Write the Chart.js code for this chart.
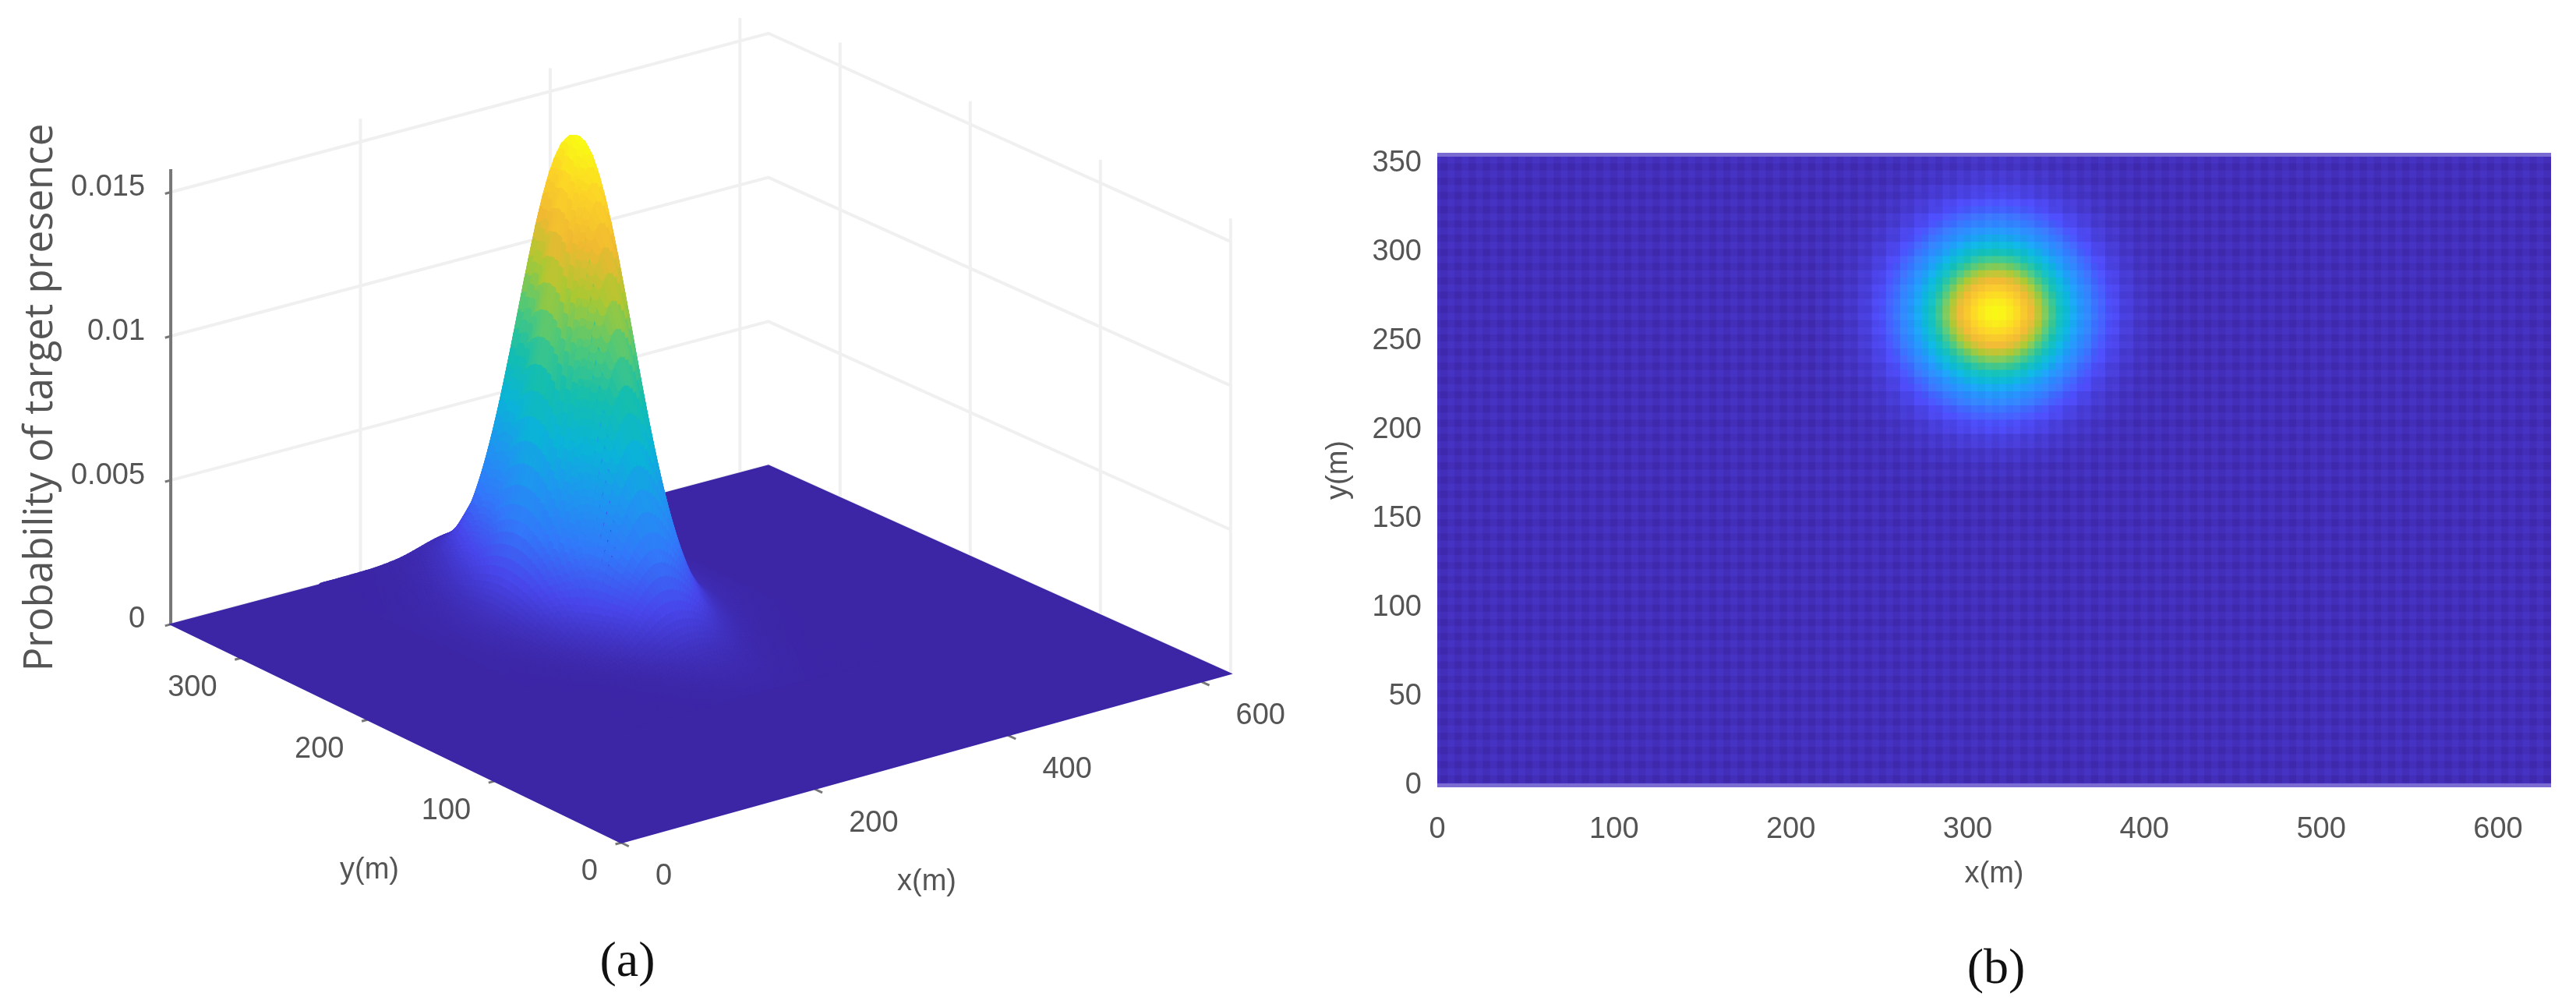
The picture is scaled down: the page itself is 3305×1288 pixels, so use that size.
<!DOCTYPE html>
<html>
<head>
<meta charset="utf-8">
<script src="https://cdn.jsdelivr.net/npm/chart.js@4/dist/chart.umd.min.js"></script>
<style>
  html, body { margin: 0; padding: 0; background: #fff; width: 3305px; height: 1288px; overflow: hidden; }
  canvas { position: absolute; top: 0; }
  #surface { left: 0; }
  #heat { left: 1660px; }
</style>
</head>
<body>
<canvas id="surface" width="1660" height="1288"></canvas>
<canvas id="heat" width="1645" height="1288"></canvas>
<script>
// values
const xTicks3d = [0, 200, 400, 600];
const yTicks3d = [0, 100, 200, 300];
const zTicks3d = [0, 0.005, 0.01, 0.015];
const zTickLabels = ['0', '0.005', '0.01', '0.015'];
const xTicksHeat = [0, 100, 200, 300, 400, 500, 600];
const yTicksHeat = [0, 50, 100, 150, 200, 250, 300, 350];

const xMax = 630;
const yMax = 355;
const zTop = 0.0158;
const peakProb = 0.0163;

// peak position (a) and (b)
const peak3d = { x: 295, y: 258 };
const peakHeat = { x: 315, y: 266 };

// falloff away from the peak, one entry per mesh step, for the surface in (a)
const surfaceFalloff = [1, 0.996, 0.983, 0.961, 0.932, 0.896, 0.854, 0.806, 0.755, 0.7, 0.644,
  0.588, 0.531, 0.476, 0.423, 0.372, 0.325, 0.281, 0.241, 0.21, 0.185, 0.16, 0.135, 0.115, 0.097,
  0.083, 0.07, 0.06, 0.05, 0.042, 0.035, 0.03, 0.026, 0.023, 0.02, 0.017, 0.015, 0.013, 0.011,
  0.009, 0.008, 0.007, 0.006, 0.005, 0.004];
const surfaceStep = 3.15;

// falloff away from the peak, every 4 m, for the map in (b)
const heatFalloff = [1, 0.991, 0.966, 0.926, 0.871, 0.807, 0.734, 0.656, 0.577, 0.498, 0.423,
  0.353, 0.29, 0.234, 0.185, 0.144, 0.11, 0.083, 0.061, 0.045, 0.032, 0.022, 0.016, 0.011, 0.007, 0.005];
const heatStep = 4;

const colorStops = [
  [0, 60, 38, 166], [0.1, 72, 70, 235], [0.2, 50, 120, 250], [0.3, 30, 150, 240],
  [0.4, 10, 180, 215], [0.5, 20, 190, 175], [0.6, 80, 200, 120], [0.7, 170, 200, 50],
  [0.8, 240, 185, 50], [0.9, 252, 210, 40], [1, 249, 251, 20]
];

const GRID = '#f0f0f0';
const AXIS = '#777777';
const TEXT = '#555555';
const TICK_FONT = '38px "Liberation Sans"';

function colormap(v) {
  v = Math.min(1, Math.max(0, v));
  let i = 0;
  while (i < colorStops.length - 2 && v > colorStops[i + 1][0]) i++;
  const a = colorStops[i], b = colorStops[i + 1];
  const t = (v - a[0]) / (b[0] - a[0]);
  return [1, 2, 3].map(k => Math.round(a[k] + (b[k] - a[k]) * t));
}

function rgb(c) {
  return `rgb(${c[0]},${c[1]},${c[2]})`;
}

function falloffAt(table, step, d) {
  const idx = Math.round(Math.abs(d) / step);
  return idx < table.length ? table[idx] : 0;
}

// camera of (a): metres and probability to canvas units, slight perspective on the far corner
function project(x, y, z) {
  const uv = (x / xMax) * (y / yMax);
  return {
    x: 797 + 1.241 * x - 1.628 * y - 15 * uv,
    y: 1081 - 0.344 * x - 0.789 * y + 13 * uv - 36960 * z,
    z: z
  };
}

function lineSet(points, color, width) {
  return {
    data: points, showLine: true, borderColor: color, borderWidth: width,
    pointRadius: 0, fill: false, clip: false
  };
}

function surfaceZ(dx, dy) {
  return peakProb * falloffAt(surfaceFalloff, surfaceStep, dx) * falloffAt(surfaceFalloff, surfaceStep, dy);
}

function buildSurfaceDatasets() {
  const sets = [];
  const reach = (surfaceFalloff.length - 1) * surfaceStep;

  // strips of the mesh, nearest first because the first dataset is painted last.
  // each strip zigzags between two neighbouring rows so the steep faces stay closed
  for (let dx = -reach; dx < reach; dx += surfaceStep) {
    const pts = [];
    for (let dy = -reach; dy <= reach; dy += surfaceStep) {
      const y = peak3d.y + dy;
      if (y > yMax) break;
      pts.push(project(peak3d.x + dx, y, surfaceZ(dx, dy)));
      pts.push(project(peak3d.x + dx + surfaceStep, y, surfaceZ(dx + surfaceStep, dy)));
    }
    sets.push({
      data: pts, showLine: true, borderWidth: 10, borderCapStyle: 'round', borderJoinStyle: 'round',
      borderColor: rgb(colorStops[0].slice(1)), pointRadius: 0, fill: false, clip: false,
      segment: {
        borderColor: c => {
          const d = c.chart.data.datasets[c.datasetIndex].data;
          return rgb(colormap((d[c.p0DataIndex].z + d[c.p1DataIndex].z) / 2 / peakProb));
        }
      }
    });
  }

  // floor
  sets.push({
    data: [project(0, 0, 0), project(xMax, 0, 0), project(xMax, yMax, 0), project(0, yMax, 0), project(0, 0, 0)],
    showLine: true, borderColor: rgb(colorStops[0].slice(1)), borderWidth: 2,
    backgroundColor: rgb(colorStops[0].slice(1)), fill: 'shape', pointRadius: 0, clip: false
  });

  // axis ticks
  zTicks3d.forEach(z => sets.push(lineSet([project(0, yMax, z), project(-6, yMax, z)], AXIS, 3)));
  xTicks3d.forEach(x => sets.push(lineSet([project(x, 0, 0), project(x, -6, 0)], AXIS, 3)));
  yTicks3d.forEach(y => sets.push(lineSet([project(0, y, 0), project(-6, y, 0)], AXIS, 3)));
  sets.push(lineSet([project(0, yMax, 0), project(0, yMax, zTop)], AXIS, 4));

  // walls
  zTicks3d.forEach(z => {
    sets.push(lineSet([project(0, yMax, z), project(xMax, yMax, z), project(xMax, 0, z)], GRID, 4));
  });
  xTicks3d.slice(1).forEach(x => sets.push(lineSet([project(x, yMax, 0), project(x, yMax, zTop)], GRID, 4)));
  yTicks3d.forEach(y => sets.push(lineSet([project(xMax, y, 0), project(xMax, y, zTop)], GRID, 4)));
  return sets;
}

const surfaceLabels = {
  id: 'surfaceLabels',
  afterDraw(chart) {
    const { ctx, scales } = chart;
    const put = (text, p, dx, dy, align) => {
      ctx.textAlign = align;
      ctx.fillText(text, scales.x.getPixelForValue(p.x) + dx, scales.y.getPixelForValue(p.y) + dy);
    };
    ctx.save();
    ctx.fillStyle = TEXT;
    ctx.textBaseline = 'middle';
    ctx.font = TICK_FONT;
    zTicks3d.forEach((z, i) => put(zTickLabels[i], project(0, yMax, z), -33, -6, 'right'));
    xTicks3d.forEach(x => put(String(x), project(x, 0, 0), 44, 44, 'left'));
    yTicks3d.forEach(y => put(String(y), project(0, y, 0), -30, 38, 'right'));
    ctx.textAlign = 'center';
    ctx.fillText('x(m)', 1189, 1132);
    ctx.fillText('y(m)', 474, 1117);

    ctx.save();
    ctx.translate(52, 510);
    ctx.rotate(-Math.PI / 2);
    ctx.font = '51px "Open Sans"';
    ctx.fillText('Probability of target presence', 0, 0);
    ctx.restore();

    ctx.font = '64px "Liberation Serif"';
    ctx.fillStyle = '#111111';
    ctx.fillText('(a)', 805, 1235);
    ctx.restore();
  }
};

new Chart(document.getElementById('surface'), {
  type: 'scatter',
  data: { datasets: buildSurfaceDatasets() },
  plugins: [surfaceLabels],
  options: {
    responsive: false,
    animation: false,
    devicePixelRatio: 1,
    layout: { padding: 0 },
    plugins: { legend: { display: false }, tooltip: { enabled: false } },
    scales: {
      x: { type: 'linear', display: false, min: 0, max: 1660 },
      y: { type: 'linear', display: false, reverse: true, min: 0, max: 1288 }
    }
  }
});

// (b) one square point per 4 m cell
function buildHeatCells() {
  const cells = [];
  const colors = [];
  for (let i = 0; i * heatStep <= xMax + heatStep; i++) {
    for (let j = 0; j * heatStep <= yMax + heatStep; j++) {
      const x = i * heatStep;
      const y = j * heatStep;
      const v = falloffAt(heatFalloff, heatStep, x - peakHeat.x) * falloffAt(heatFalloff, heatStep, y - peakHeat.y);
      const c = colormap(v);
      // the mesh shows through as a fine lighter weave
      const weave = 3 + (i % 2 === 0 ? 5 : 0) + (j % 2 === 0 ? 5 : 0);
      const k = (1 - v) * weave;
      cells.push({ x, y });
      colors.push(rgb([c[0] + k * 0.8, c[1] + k, c[2] + k * 2.2]));
    }
  }
  return { cells, colors };
}

const heatFrame = {
  id: 'heatFrame',
  afterDatasetsDraw(chart) {
    const { ctx, chartArea } = chart;
    ctx.save();
    ctx.fillStyle = '#7a6bd2';
    ctx.fillRect(chartArea.left, chartArea.top - 2, chartArea.width, 5);
    ctx.fillRect(chartArea.left, chartArea.bottom - 3, chartArea.width, 5);
    ctx.restore();
  },
  afterDraw(chart) {
    const ctx = chart.ctx;
    ctx.save();
    ctx.font = '64px "Liberation Serif"';
    ctx.fillStyle = '#111111';
    ctx.textAlign = 'center';
    ctx.textBaseline = 'middle';
    ctx.fillText('(b)', 2561 - 1660, 1244);
    ctx.restore();
  }
};

const heat = buildHeatCells();

new Chart(document.getElementById('heat'), {
  type: 'scatter',
  data: {
    datasets: [{
      data: heat.cells,
      pointStyle: 'rect',
      pointRadius: 7,
      pointBorderWidth: 0,
      pointBackgroundColor: heat.colors
    }]
  },
  plugins: [heatFrame],
  options: {
    responsive: false,
    animation: false,
    devicePixelRatio: 1,
    layout: { padding: { top: 198, right: 32, bottom: 140, left: 0 } },
    plugins: { legend: { display: false }, tooltip: { enabled: false } },
    scales: {
      x: {
        type: 'linear', min: 0, max: xMax,
        grid: { display: false }, border: { display: false },
        afterFit: s => { s.height = 140; },
        afterBuildTicks: s => { s.ticks = xTicksHeat.map(value => ({ value })); },
        ticks: { color: TEXT, font: { family: 'Liberation Sans', size: 38 }, padding: 26, maxRotation: 0, autoSkip: false },
        title: { display: true, text: 'x(m)', color: TEXT, font: { family: 'Liberation Sans', size: 38 }, padding: { top: 0, bottom: 4 } }
      },
      y: {
        type: 'linear', min: 0, max: yMax,
        grid: { display: false }, border: { display: false },
        afterFit: s => { s.width = 184; },
        afterBuildTicks: s => { s.ticks = yTicksHeat.map(value => ({ value })); },
        ticks: { color: TEXT, font: { family: 'Liberation Sans', size: 38 }, padding: 12, autoSkip: false },
        title: { display: true, text: 'y(m)', color: TEXT, font: { family: 'Liberation Sans', size: 38 }, padding: { top: 35, bottom: 0 } }
      }
    }
  }
});
</script>
</body>
</html>
